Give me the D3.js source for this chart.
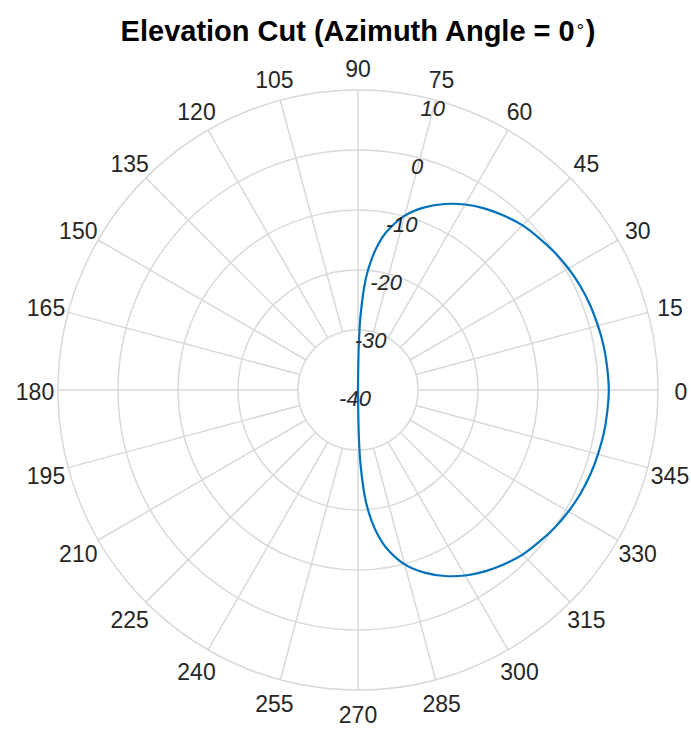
<!DOCTYPE html>
<html>
<head>
<meta charset="utf-8">
<script src="https://cdn.jsdelivr.net/npm/d3@7"></script>
<style>
  body { margin: 0; background: #fff; }
  svg { display: block; font-family: 'Liberation Sans', Arial, sans-serif; }
</style>
</head>
<body>
<div class="graphic"></div>
<script>
// elevation cut of the pattern (dB)
const elevationDeg = [-90, -89, -88, -86, -84, -82, -80, -75, -70, -65, -60, -55, -50, -45, -40, -35, -30, -25, -20, -15, -10, -5,
  0, 5, 10, 15, 20, 25, 30, 35, 40, 45, 50, 55, 60, 65, 70, 75, 80, 82, 84, 86, 88, 89, 90];
const gainDb = [-40, -32.5, -27.4, -21.4, -18.0, -15.4, -13.4, -9.9, -7.6, -5.8, -4.3, -3.1, -2.1, -1.2, -0.6, 0.0, 0.5, 0.9, 1.2, 1.4, 1.6, 1.7,
  1.8, 1.7, 1.6, 1.4, 1.2, 0.9, 0.5, 0.0, -0.6, -1.2, -2.1, -3.1, -4.3, -5.8, -7.6, -9.9, -13.4, -15.4, -18.0, -21.4, -27.4, -32.5, -40];

const thetaTicks = d3.range(0, 360, 15);
const rTicks = [-40, -30, -20, -10, 0, 10];
const rGrid = [-30, -20, -10, 0, 10];

const width = 691, height = 732;
const cx = 358, cy = 390, outerR = 300;

const svg = d3.select('.graphic')
  .append('svg')
  .attr('width', width)
  .attr('height', height);

const r = d3.scaleLinear().domain([-40, 10]).range([0, outerR]).clamp(true);
const rad = deg => deg * Math.PI / 180;

const g = svg.append('g').attr('transform', `translate(${cx},${cy})`);

// spokes
g.selectAll('line.spoke')
  .data(thetaTicks)
  .enter()
  .append('line')
  .attr('class', 'spoke')
  .attr('x1', d => r(-30) * Math.cos(rad(d)))
  .attr('y1', d => -r(-30) * Math.sin(rad(d)))
  .attr('x2', d => outerR * Math.cos(rad(d)))
  .attr('y2', d => -outerR * Math.sin(rad(d)))
  .attr('stroke', '#d9d9d9')
  .attr('stroke-width', 1.5);

// rings
g.selectAll('circle.ring')
  .data(rGrid)
  .enter()
  .append('circle')
  .attr('class', 'ring')
  .attr('r', d => r(d))
  .attr('fill', 'none')
  .attr('stroke', '#d9d9d9')
  .attr('stroke-width', 1.5);

// pattern
const line = d3.lineRadial()
  .angle((d, i) => rad(90 - elevationDeg[i]))
  .radius(d => r(d))
  .curve(d3.curveCatmullRom.alpha(0.5));

g.append('path')
  .datum(gainDb)
  .attr('d', line)
  .attr('fill', 'none')
  .attr('stroke', '#0072BD')
  .attr('stroke-width', 2.2);

// theta labels
g.selectAll('text.theta')
  .data(thetaTicks)
  .enter()
  .append('text')
  .attr('class', 'theta')
  .attr('x', d => (outerR + 23) * Math.cos(rad(d)))
  .attr('y', d => -(outerR + 23) * Math.sin(rad(d)) + 2)
  .attr('text-anchor', 'middle')
  .attr('dominant-baseline', 'central')
  .attr('fill', '#262626')
  .style('font-size', '23px')
  .text(d => d);

// r labels along 75 deg
g.selectAll('text.rlabel')
  .data(rTicks)
  .enter()
  .append('text')
  .attr('class', 'rlabel')
  .attr('x', d => r(d) * Math.cos(rad(75)) - 3)
  .attr('y', d => -r(d) * Math.sin(rad(75)) + 8)
  .attr('text-anchor', 'middle')
  .attr('dominant-baseline', 'central')
  .attr('fill', '#262626')
  .style('font-size', '22px')
  .style('font-style', 'italic')
  .text(d => d);

// title
const title = svg.append('text')
  .attr('x', cx)
  .attr('y', 41)
  .attr('text-anchor', 'middle')
  .attr('fill', '#000')
  .style('font-size', '29px')
  .style('font-weight', 'bold');
title.append('tspan').text('Elevation Cut (Azimuth Angle = 0');
title.append('tspan').attr('dy', -10).style('font-size', '17px').style('font-weight', 'normal').text('\u2218');
title.append('tspan').attr('dy', 10).text(')');
</script>
</body>
</html>
